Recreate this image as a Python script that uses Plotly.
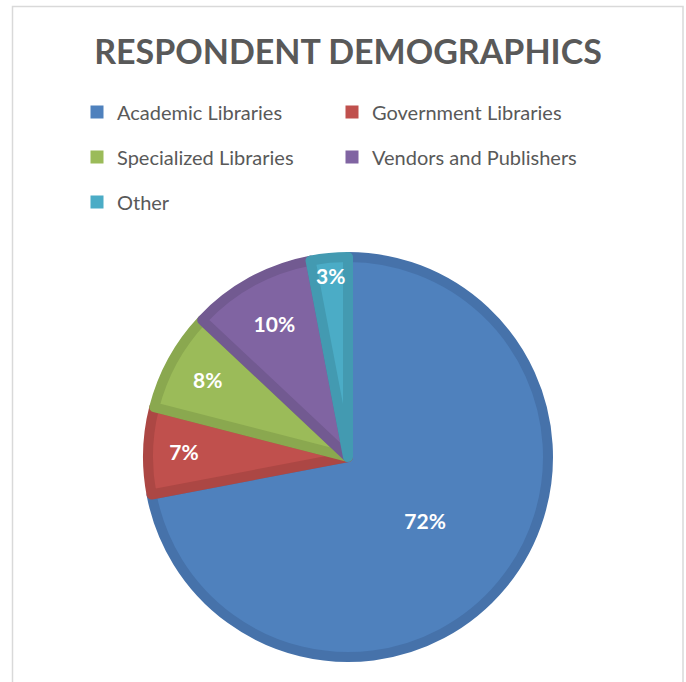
import plotly.graph_objects as go

categories = ["Academic Libraries", "Government Libraries", "Specialized Libraries",
              "Vendors and Publishers", "Other"]
values = [72, 7, 8, 10, 3]
fill_colors = ["#4F81BD", "#C0504D", "#9BBB59", "#8064A2", "#4BACC6"]
edge_colors = ["#4672AA", "#AC4744", "#8AA84F", "#725A91", "#439AB1"]
legend_rows = ["legend", "legend", "legend2", "legend2", "legend3"]

W, H = 686, 682
OFF = 0  # page body margin removed below
FONT = "Lato"
GREY = "#595959"

fig = go.Figure()

fig.add_trace(go.Pie(
    labels=categories,
    values=values,
    sort=False,
    direction="clockwise",
    rotation=0,
    marker=dict(colors=fill_colors, line=dict(color=edge_colors, width=10)),
    textinfo="percent",
    textposition="inside",
    insidetextorientation="horizontal",
    insidetextfont=dict(family=FONT, size=21, color="white", weight="bold"),
    showlegend=False,
    hoverinfo="label+percent",
    domain=dict(x=[0, 1], y=[0, 1]),
))

# legend entries (same categories and colours)
for cat, col, lg in zip(categories, fill_colors, legend_rows):
    fig.add_trace(go.Scatter(
        x=[None], y=[None], mode="markers", name=cat,
        marker=dict(symbol="square", size=13, color=col),
        legend=lg, showlegend=True, hoverinfo="skip",
    ))

# pie centre (348, 457) px, outer radius ~205 px incl. edge
L, T, R, B = 148, 257, 138, 25
pw = W - L - R
ph = H - T - B

def px_x(px):
    return (px - OFF - L) / pw

def px_y(py):
    return (H - B - (py - OFF)) / ph

leg_common = dict(
    orientation="h",
    xanchor="left",
    yanchor="middle",
    bgcolor="rgba(0,0,0,0)",
    font=dict(family=FONT, size=20, color=GREY),
    entrywidth=210,
    entrywidthmode="pixels",
    itemclick=False,
    itemdoubleclick=False,
)

fig.update_layout(
    width=W,
    height=H,
    margin=dict(l=L, r=R, t=T, b=B, autoexpand=False),
    paper_bgcolor="white",
    plot_bgcolor="white",
    title=dict(
        text="RESPONDENT DEMOGRAPHICS",
        font=dict(family=FONT, size=34, color=GREY, weight="bold"),
        x=px_x(348), xref="paper", xanchor="center",
        y=1 - (52 - OFF) / H, yref="container", yanchor="middle",
    ),
    xaxis=dict(visible=False),
    yaxis=dict(visible=False),
    uniformtext=dict(minsize=21, mode="show"),
    legend=dict(x=px_x(77), y=px_y(112), **leg_common),
    legend2=dict(x=px_x(77), y=px_y(157), **leg_common),
    legend3=dict(x=px_x(77), y=px_y(202), **leg_common),
    shapes=[dict(
        type="rect", xref="paper", yref="paper",
        x0=px_x(12.5), x1=px_x(683), y0=px_y(720), y1=px_y(6.5),
        line=dict(color="#D9D9D9", width=1.5), fillcolor="rgba(0,0,0,0)",
        layer="below",
    )],
)

fig.write_html(
    "out.html",
    config={"displayModeBar": False},
    post_script="document.body.style.margin='0';document.body.style.overflow='hidden';",
)
